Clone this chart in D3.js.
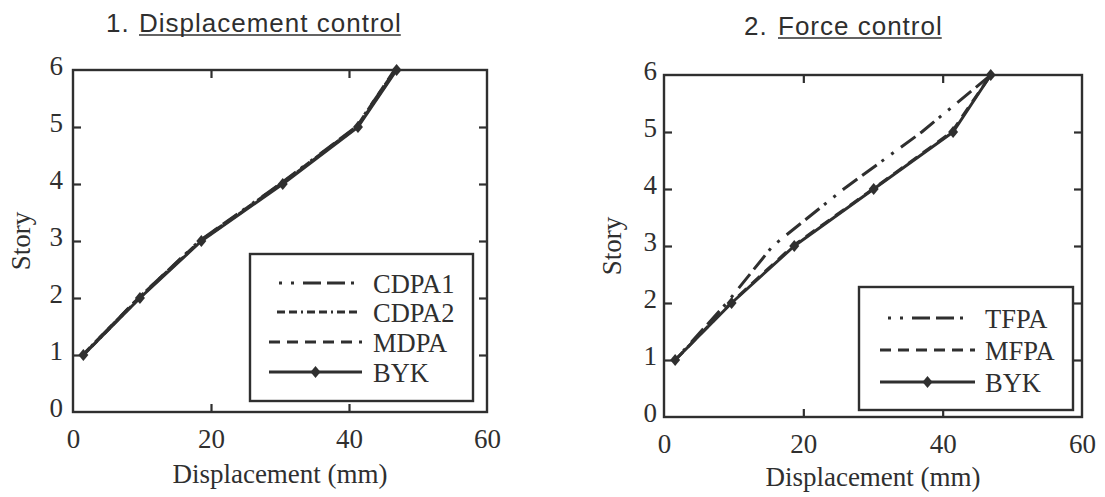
<!DOCTYPE html>
<html><head><meta charset="utf-8">
<script src="https://cdn.jsdelivr.net/npm/d3@7"></script>
<style>
html,body{margin:0;padding:0;background:#fff;}
svg{display:block;}
</style></head>
<body>
<svg id="chart" width="1105" height="497"></svg>
<script>
// ---- data ----
const stories = [1, 2, 3, 4, 5, 6];
const xTicks = [0, 20, 40, 60];
const yTicks = [0, 1, 2, 3, 4, 5, 6];

// Panel 1: displacement control (mm)
const cdpa1 = [1.4, 9.5, 18.3, 30.0, 41.0, 46.7];
const cdpa2 = [1.5, 9.6, 18.5, 30.2, 41.2, 46.8];
const mdpa  = [1.4, 9.5, 18.4, 30.1, 41.1, 46.6];
const byk1  = [1.5, 9.7, 18.6, 30.4, 41.3, 46.9];

// Panel 2: force control (mm)
const tfpa = [1.6, 9.0, 15.6, 25.8, 37.0, 46.9];
const mfpa = [1.6, 9.6, 18.5, 30.0, 41.3, 46.9];
const byk2 = [1.6, 9.7, 18.7, 30.1, 41.5, 46.9];

const seriesNames1 = ["CDPA1", "CDPA2", "MDPA", "BYK"];
const seriesNames2 = ["TFPA", "MFPA", "BYK"];

// ---- styles ----
const INK = "#2f2f2f";
const styles = {
  CDPA1: {dash: "3,9,3,9,18,6,18,6", inset: 10},
  CDPA2: {dash: "8,4,8,4,2,4", inset: 8},
  MDPA:  {dash: "11,7", inset: 0},
  TFPA:  {dash: "3,9,3,9,18,6,18,6", inset: 8},
  MFPA:  {dash: "11,7", inset: 0},
  BYK:   {dash: null, marker: true, inset: 0}
};

const svg = d3.select("#chart");
const serif = "'Liberation Serif', 'Times New Roman', serif";
const sans = "'Liberation Sans', Arial, sans-serif";
const diamond = "M0,-6L5,0L0,6L-5,0Z";

function panel(cfg) {
  const x = d3.scaleLinear().domain([0, 60]).range([cfg.x0, cfg.x1]);
  const y = d3.scaleLinear().domain([0, 6]).range([cfg.y1, cfg.y0]);
  const g = svg.append("g");

  // title
  g.append("text").attr("x", cfg.tx).attr("y", cfg.ty)
    .attr("font-family", sans).attr("font-size", 26).attr("letter-spacing", "1px")
    .attr("fill", INK).text(cfg.prefix);
  const main = g.append("text").attr("x", cfg.tmx).attr("y", cfg.ty)
    .attr("font-family", sans).attr("font-size", 26).attr("letter-spacing", "1px")
    .attr("fill", INK).text(cfg.title);
  const bb = main.node().getBBox();
  g.append("line").attr("x1", bb.x).attr("x2", bb.x + bb.width - 1)
    .attr("y1", cfg.ty + 3).attr("y2", cfg.ty + 3)
    .attr("stroke", INK).attr("stroke-width", 1.6);

  // axes
  const styleAxis = sel => {
    sel.select(".domain").remove();
    sel.selectAll("line").attr("stroke", INK).attr("stroke-width", 2.2);
    sel.selectAll("text").attr("font-family", serif).attr("font-size", 27).attr("fill", INK);
  };
  const inner = d => d > 0 && d < 60;
  const innerY = d => d > 0 && d < 6;

  g.append("g").attr("transform", `translate(0,${cfg.y1})`)
    .call(d3.axisBottom(x).tickValues(xTicks).tickSize(-8).tickPadding(17).tickFormat(d3.format("d")))
    .call(styleAxis)
    .call(s => s.selectAll(".tick line").filter(d => !inner(d)).remove());
  g.append("g").attr("transform", `translate(0,${cfg.y0})`)
    .call(d3.axisTop(x).tickValues(xTicks.filter(inner)).tickSize(-8).tickFormat(""))
    .call(styleAxis);
  const yl = g.append("g").attr("transform", `translate(${cfg.x0},0)`)
    .call(d3.axisLeft(y).tickValues(yTicks).tickSize(-8).tickPadding(cfg.ypad).tickFormat(d3.format("d")))
    .call(styleAxis)
    .call(s => s.selectAll(".tick line").filter(d => !innerY(d)).remove());
  yl.selectAll("text").attr("dy", "0.18em");
  g.append("g").attr("transform", `translate(${cfg.x1},0)`)
    .call(d3.axisRight(y).tickValues(yTicks.filter(innerY)).tickSize(-8).tickFormat(""))
    .call(styleAxis);

  // frame
  g.append("rect").attr("x", cfg.x0).attr("y", cfg.y0)
    .attr("width", cfg.x1 - cfg.x0).attr("height", cfg.y1 - cfg.y0)
    .attr("fill", "none").attr("stroke", INK).attr("stroke-width", 2.4);

  // axis labels
  g.append("text").attr("x", (cfg.x0 + cfg.x1) / 2).attr("y", cfg.xly)
    .attr("text-anchor", "middle").attr("font-family", serif).attr("font-size", 27)
    .attr("fill", INK).text("Displacement (mm)");
  g.append("text").attr("transform", `translate(${cfg.ylx},${(cfg.y0 + cfg.y1) / 2}) rotate(-90)`)
    .attr("text-anchor", "middle").attr("font-family", serif).attr("font-size", 27)
    .attr("fill", INK).text("Story");

  // lines
  const line = d3.line().x(d => x(d[0])).y(d => y(d[1]));
  cfg.series.forEach(s => {
    const pts = s.values.map((v, i) => [v, stories[i]]);
    const st = styles[s.name];
    g.append("path").attr("d", line(pts)).attr("fill", "none")
      .attr("stroke", INK).attr("stroke-width", 3)
      .attr("stroke-dasharray", st.dash).attr("stroke-linejoin", "round");
    if (st.marker) {
      g.selectAll(null).data(pts).enter().append("path")
        .attr("d", diamond)
        .attr("transform", d => `translate(${x(d[0])},${y(d[1])})`)
        .attr("fill", INK);
    }
  });

  // legend
  const L = cfg.legend;
  g.append("rect").attr("x", L.x0).attr("y", L.y0)
    .attr("width", L.x1 - L.x0).attr("height", L.y1 - L.y0)
    .attr("fill", "#fff").attr("stroke", INK).attr("stroke-width", 2.4);
  cfg.series.forEach((s, i) => {
    const st = styles[s.name];
    const yy = L.rows[i];
    g.append("line").attr("x1", L.lx0 + st.inset).attr("x2", L.lx1 - st.inset / 2).attr("y1", yy).attr("y2", yy)
      .attr("stroke", INK).attr("stroke-width", 2.8).attr("stroke-dasharray", st.dash);
    if (st.marker) {
      g.append("path").attr("d", diamond)
        .attr("transform", `translate(${(L.lx0 + L.lx1) / 2},${yy})`).attr("fill", INK);
    }
    g.append("text").attr("x", L.tx).attr("y", yy + 9.5)
      .attr("font-family", serif).attr("font-size", 26.5).attr("fill", INK).text(s.name);
  });
}

panel({
  x0: 73, x1: 487, y0: 70, y1: 412, ypad: 10,
  tx: 106, tmx: 139, ty: 32, prefix: "1.", title: "Displacement control",
  xly: 483, ylx: 30,
  series: [
    {name: "CDPA1", values: cdpa1},
    {name: "CDPA2", values: cdpa2},
    {name: "MDPA", values: mdpa},
    {name: "BYK", values: byk1}
  ],
  legend: {x0: 250, x1: 473, y0: 254, y1: 401, lx0: 269, lx1: 362, tx: 373, rows: [283, 312, 342, 372]}
});

panel({
  x0: 664, x1: 1082, y0: 75, y1: 417, ypad: 7,
  tx: 744, tmx: 778, ty: 35, prefix: "2.", title: "Force control",
  xly: 486, ylx: 621,
  series: [
    {name: "TFPA", values: tfpa},
    {name: "MFPA", values: mfpa},
    {name: "BYK", values: byk2}
  ],
  legend: {x0: 859, x1: 1073, y0: 287, y1: 410, lx0: 880, lx1: 975, tx: 985, rows: [318, 350, 382]}
});
</script>
</body></html>
